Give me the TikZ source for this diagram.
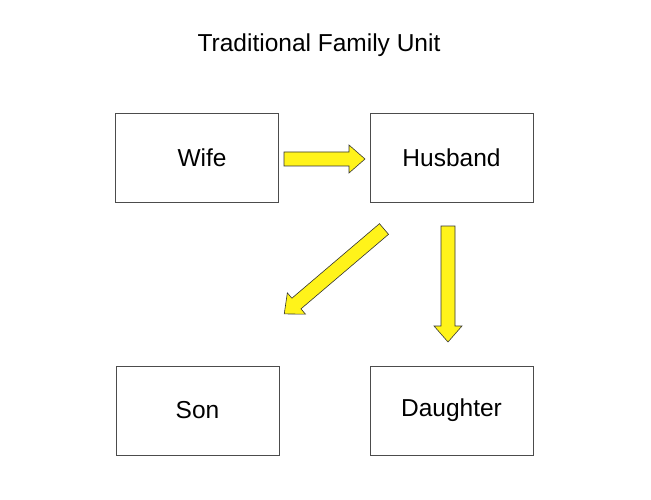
\documentclass[tikz,border=0pt]{standalone}
\usepackage{fontspec}
\setmainfont{Liberation Sans}
\begin{document}
\begin{tikzpicture}[x=1pt,y=1pt,
  box/.style={draw=black!70,line width=0.6pt,minimum width=163pt,minimum height=89pt,font=\fontsize{24.5}{28}\selectfont},
  barrow/.style={draw=black!80,fill=yellow!90!white,line width=0.6pt,line join=miter}]
\useasboundingbox (0,0) rectangle (651,499);
\node[font=\fontsize{24.5}{28}\selectfont] (title) at (319,454) {Traditional Family Unit};
\node[box] (wife) at (196.5,341.5) {\hspace*{11pt}Wife};
\node[box] (husband) at (451.5,341.5) {Husband};
\node[box] (son) at (197.5,88.5) {Son};
\node[box] (daughter) at (451.5,88.5) {Daughter};
\newcommand{\blockarr}[4]{%
 \begin{scope}[shift={(#1,#2)},rotate=#3]
  \draw[barrow] (0,-7) -- (#4-16,-7) -- (#4-16,-14) -- (#4,0) -- (#4-16,14) -- (#4-16,7) -- (0,7) -- cycle;
 \end{scope}}
\blockarr{284}{340}{0}{81}
\blockarr{384}{270}{220.4}{131}
\blockarr{448}{273}{-90}{116}
\end{tikzpicture}
\end{document}
